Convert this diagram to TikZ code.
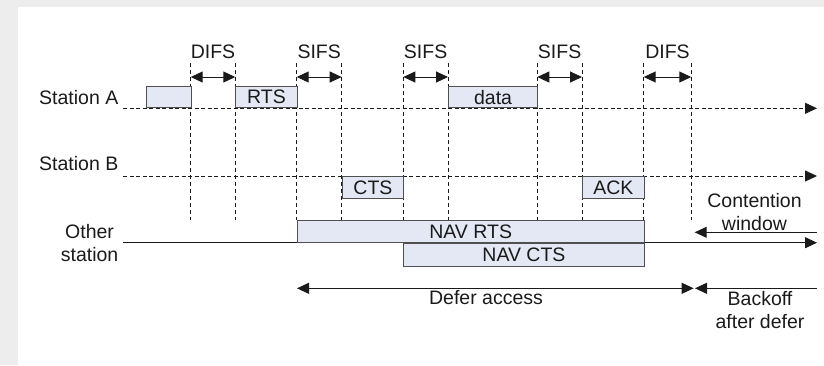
\documentclass[tikz,border=0pt]{standalone}
\usepackage{fontspec}
\setmainfont{Liberation Sans}
\usetikzlibrary{arrows.meta}
\definecolor{boxfill}{HTML}{E4E8F4}
\definecolor{boxline}{HTML}{505050}
\definecolor{ink}{HTML}{1A1A1A}
\definecolor{paper}{HTML}{EDEDED}

\begin{document}
\begin{tikzpicture}[x=1pt,y=-1pt,
  font=\fontsize{19.5}{23}\selectfont,
  every node/.style={text=ink},
  lab/.style={inner sep=0pt},
  slot/.style={draw=boxline, fill=boxfill, line width=0.9pt, inner sep=0pt},
  tick/.style={draw=ink, line width=0.8pt, dash pattern=on 4pt off 3pt},
  dline/.style={draw=ink, line width=0.8pt, dash pattern=on 4pt off 2.5pt},
  sline/.style={draw=ink, line width=1pt},
  tipend/.style={-{Triangle[length=12pt,width=11pt]}},
  tipstart/.style={{Triangle[length=12pt,width=11pt]}-},
  tipboth/.style={{Triangle[length=12pt,width=11pt]}-{Triangle[length=12pt,width=11pt]}}]

% paper margins
\fill[paper] (0,0) rectangle (18,365);
\fill[paper] (0,0) rectangle (824,7);
\useasboundingbox (0,0) rectangle (824,365);

% time marks
\foreach \n/\x in {t1/190.7, t2/235.3, t3/296.7, t4/341.7, t5/403.3,
                   t6/448, t7/537.3, t8/582, t9/643.7, t10/691.3} {
  \coordinate (\n-top) at (\x,63);
  \coordinate (\n-bot) at (\x,220);
  \coordinate (\n-mid) at (\x,77);
  \draw[tick] (\n-top) -- (\n-bot);
}

% interframe spaces
\draw[sline, tipboth] (t1-mid) -- (t2-mid);
\draw[sline, tipboth] (t3-mid) -- (t4-mid);
\draw[sline, tipboth] (t5-mid) -- (t6-mid);
\draw[sline, tipboth] (t7-mid) -- (t8-mid);
\draw[sline, tipboth] (t9-mid) -- (t10-mid);
\node[lab] (difs1) at (213,52) {DIFS};
\node[lab] (sifs1) at (319.2,52) {SIFS};
\node[lab] (sifs2) at (425.6,52) {SIFS};
\node[lab] (sifs3) at (559.6,52) {SIFS};
\node[lab] (difs2) at (667.5,52) {DIFS};

% station timelines
\coordinate (a0) at (123,108.3);
\coordinate (a1) at (817,108.3);
\coordinate (b0) at (123,176);
\coordinate (b1) at (817,176);
\coordinate (o0) at (123,242.7);
\coordinate (o1) at (817,242.7);
\draw[dline, tipend] (a0) -- (a1);
\draw[dline, tipend] (b0) -- (b1);
\draw[sline, tipend] (o0) -- (o1);

\node[lab, anchor=east] (sa) at (118.5,97.3) {Station A};
\node[lab, anchor=east] (sb) at (118.5,164) {Station B};
\node[lab, anchor=east, align=center] (os) at (118.5,243.3) {Other\\station};

% frames
\node[slot, anchor=south west, minimum width=45, minimum height=21.6] (pre) at (145.7,108.3) {};
\node[slot, anchor=south west, minimum width=61.4, minimum height=21.6] (rts) at (235.3,108.3) {RTS};
\node[slot, anchor=south west, minimum width=89.3, minimum height=21.6] (data) at (448,108.3) {data};
\node[slot, anchor=north west, minimum width=61.6, minimum height=22.3] (cts) at (341.7,176) {CTS};
\node[slot, anchor=north west, minimum width=61.7, minimum height=22.3] (ack) at (582,176) {ACK};
\node[slot, anchor=south west, minimum width=347, minimum height=21.7] (navrts) at (296.7,242.7) {NAV RTS};
\node[slot, anchor=north west, minimum width=240.4, minimum height=23.3] (navcts) at (403.3,242.7) {NAV CTS};

% contention window
\coordinate (cw0) at (694.7,232.3);
\coordinate (cw1) at (817,232.3);
\draw[sline, tipstart] (cw0) -- (cw1);
\node[lab, align=center] (cw) at (754.5,212) {Contention\\window};

% defer and backoff
\coordinate (d0) at (297,288.3);
\coordinate (d1) at (693.7,288.3);
\coordinate (k0) at (695,288.3);
\coordinate (k1) at (817,288.3);
\draw[sline, tipboth] (d0) -- (d1);
\draw[sline, tipstart] (k0) -- (k1);
\node[lab] (defer) at (486,298) {Defer access};
\node[lab, align=center] (backoff) at (760,310.3) {Backoff\\after defer};
\end{tikzpicture}
\end{document}
